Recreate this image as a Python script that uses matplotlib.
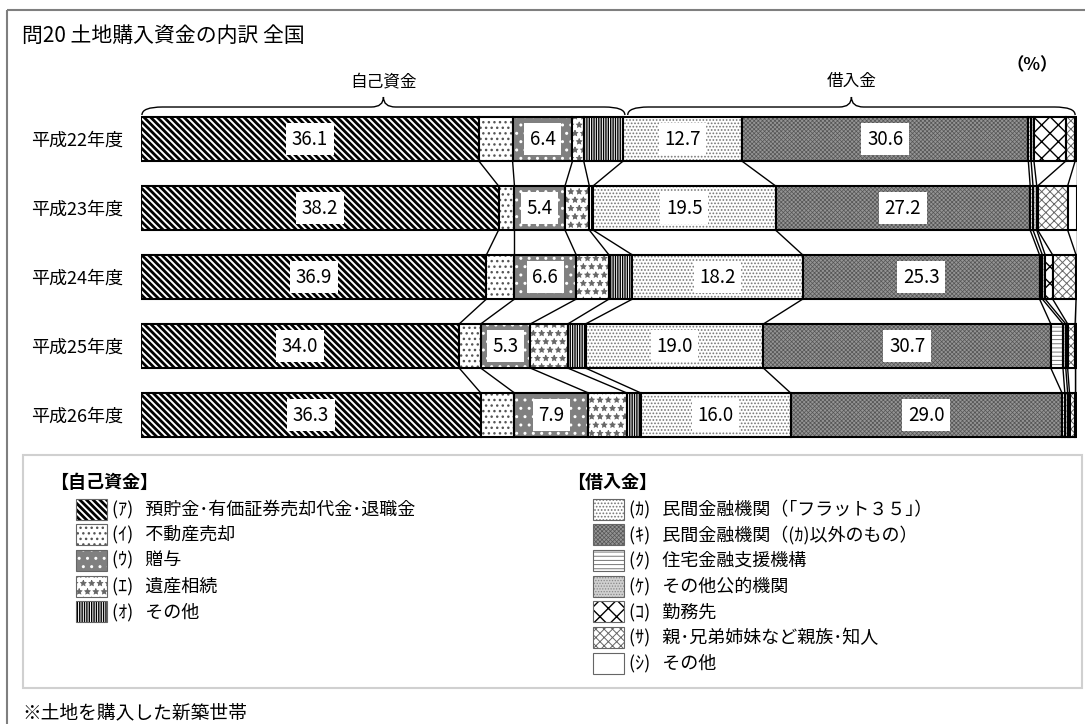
import matplotlib
matplotlib.use("Agg")
import matplotlib.pyplot as plt
import numpy as np
from matplotlib.patches import Rectangle, PathPatch
from matplotlib.path import Path

plt.rcParams['font.family'] = ['Noto Sans CJK JP', 'DejaVu Sans']

# data (%), one row per year, columns in legend order (ｱ)..(ｼ)
years = ['平成22年度', '平成23年度', '平成24年度', '平成25年度', '平成26年度']
h22 = [36.1, 3.6, 6.4, 1.2, 4.2, 12.7, 30.6, 0.3, 0.3, 3.4, 1.0, 0.2]
h23 = [38.2, 1.7, 5.4, 2.6, 0.4, 19.5, 27.2, 0.3, 0.4, 0.1, 3.2, 1.0]
h24 = [36.9, 3.0, 6.6, 3.5, 2.5, 18.2, 25.3, 0.3, 0.3, 0.8, 2.5, 0.1]
h25 = [34.0, 2.3, 5.3, 4.0, 1.9, 19.0, 30.7, 1.3, 0.3, 0.2, 0.8, 0.2]
h26 = [36.3, 3.6, 7.9, 4.1, 1.5, 16.0, 29.0, 0.3, 0.3, 0.2, 0.6, 0.2]
own_labels = ['(ｱ)   預貯金･有価証券売却代金･退職金', '(ｲ)   不動産売却', '(ｳ)   贈与',
              '(ｴ)   遺産相続', '(ｵ)   その他']
loan_labels = ['(ｶ)   民間金融機関（｢フラット３５｣）', '(ｷ)   民間金融機関（(ｶ)以外のもの）',
               '(ｸ)   住宅金融支援機構', '(ｹ)   その他公的機関', '(ｺ)   勤務先',
               '(ｻ)   親･兄弟姉妹など親族･知人', '(ｼ)   その他']
labeled = [0, 2, 5, 6]   # segments that carry a value label
n_own = 5

data = np.array([h22, h23, h24, h25, h26])

# face, hatch, hatch colour, hatch linewidth
styles = [
    ('white', '\\' * 5, 'black', 2.0),
    ('white', '...', '#555555', 1.0),
    ('#808080', '..', 'white', 1.0),
    ('white', '**', '#666666', 0.6),
    ('white', '|' * 7, 'black', 1.0),
    ('white', '.....', '#777777', 0.8),
    ('#949494', 'x' * 8, '#555555', 0.5),
    ('white', '----', '#777777', 0.7),
    ('#d0d0d0', '......', '#888888', 0.6),
    ('white', 'xx', 'black', 1.0),
    ('white', 'xxxx', '#666666', 0.7),
    ('white', None, 'black', 1.0),
]


def hatched(make, lw):
    with plt.rc_context({'hatch.linewidth': lw}):
        art = make()
    items = art if hasattr(art, '__iter__') else [art]
    for a in items:
        if hasattr(a, 'set_hatch_linewidth'):
            a.set_hatch_linewidth(lw)
    return art


fig = plt.figure(figsize=(10.85, 7.24), dpi=100)

# overlay in pixel units for frame, title, legend, note
ov = fig.add_axes([0, 0, 1, 1])
ov.set_xlim(0, 1085)
ov.set_ylim(724, 0)
ov.axis('off')
ov.add_patch(Rectangle((7, 10), 1100, 730, fill=False, edgecolor='#7f7f7f', lw=1.5))
ov.text(22, 36, '問20 土地購入資金の内訳 全国', fontsize=15, va='center')
ov.text(22, 713, '※土地を購入した新築世帯', fontsize=13.5, va='center')
ov.add_patch(Rectangle((23, 455), 1059, 233, fill=False, edgecolor='#d0d0d0', lw=1.5))

ov.text(50, 482, '【自己資金】', fontsize=13, va='center', fontweight='bold')
ov.text(567, 482, '【借入金】', fontsize=13, va='center', fontweight='bold')
for col, (x0, labels, offs) in enumerate([(76, own_labels, 0), (593, loan_labels, n_own)]):
    for k, lab in enumerate(labels):
        face, hatch, hc, hlw = styles[offs + k]
        yc = 509 + k * 25.7
        hatched(lambda: ov.add_patch(Rectangle((x0, yc - 10.5), 31, 21, facecolor=face,
                                               hatch=hatch, edgecolor=hc, lw=0)), hlw)
        ov.add_patch(Rectangle((x0, yc - 10.5), 31, 21, fill=False, edgecolor='#666666', lw=0.8))
        ov.text(x0 + 36, yc, lab, fontsize=13, va='center')

# bar chart
ax = fig.add_axes([141 / 1085, 1 - 450 / 724, 936 / 1085, 390 / 724])
ax.set_facecolor('none')
ax.set_xlim(0, 100)
ax.set_ylim(4.507, -1.145)
h = 0.64
ypos = np.arange(len(years))
lefts = np.hstack([np.zeros((len(years), 1)), np.cumsum(data, axis=1)[:, :-1]])

for j in range(data.shape[1]):
    face, hatch, hc, hlw = styles[j]
    hatched(lambda: ax.barh(ypos, data[:, j], left=lefts[:, j], height=h, color=face,
                            hatch=hatch, edgecolor=hc, linewidth=0), hlw)
    ax.barh(ypos, data[:, j], left=lefts[:, j], height=h, fill=False,
            edgecolor='black', linewidth=1.5)
    if j in labeled:
        for i in range(len(years)):
            ax.text(lefts[i, j] + data[i, j] / 2, ypos[i], f'{data[i, j]:.1f}',
                    ha='center', va='center', fontsize=13.5,
                    bbox=dict(boxstyle='square,pad=0.3', facecolor='white', edgecolor='none'))

# connector lines between successive bars
ends = np.cumsum(data, axis=1)
for i in range(len(years) - 1):
    for j in range(data.shape[1]):
        ax.plot([ends[i, j], ends[i + 1, j]], [ypos[i] + h / 2, ypos[i + 1] - h / 2],
                color='black', lw=1.0)


def brace(x0, x1, yb, yh, yt, r=2.2, rm=1.3):
    xm = (x0 + x1) / 2
    verts = [(x0, yb), (x0, yh), (x0 + r, yh), (xm - rm, yh), (xm, yh), (xm, yt),
             (xm, yh), (xm + rm, yh), (x1 - r, yh), (x1, yh), (x1, yb)]
    codes = [Path.MOVETO, Path.CURVE3, Path.CURVE3, Path.LINETO, Path.CURVE3, Path.CURVE3,
             Path.CURVE3, Path.CURVE3, Path.LINETO, Path.CURVE3, Path.CURVE3]
    ax.add_patch(PathPatch(Path(verts, codes), fill=False, edgecolor='black', lw=1.0,
                           clip_on=False))
    return xm


own_total = ends[0, n_own - 1]
yb, yh, yt = (115 - 139) / 69, (107 - 139) / 69, (97 - 139) / 69
xm1 = brace(0.1, own_total + 0.2, yb, yh, yt)
xm2 = brace(own_total + 0.5, 99.8, yb, yh, yt)
ax.text(xm1, -0.83, '自己資金', ha='center', va='center', fontsize=12)
ax.text(xm2, -0.83, '借入金', ha='center', va='center', fontsize=12)
ax.text(95.2, -1.07, '（%）', ha='center', va='center', fontsize=12.5, fontweight='bold')

ax.set_yticks(ypos, labels=years, fontsize=13)
ax.set_xticks([])
ax.tick_params(axis='y', length=0, pad=13)
for s in ax.spines.values():
    s.set_visible(False)

fig.savefig('out.png', dpi=100)
